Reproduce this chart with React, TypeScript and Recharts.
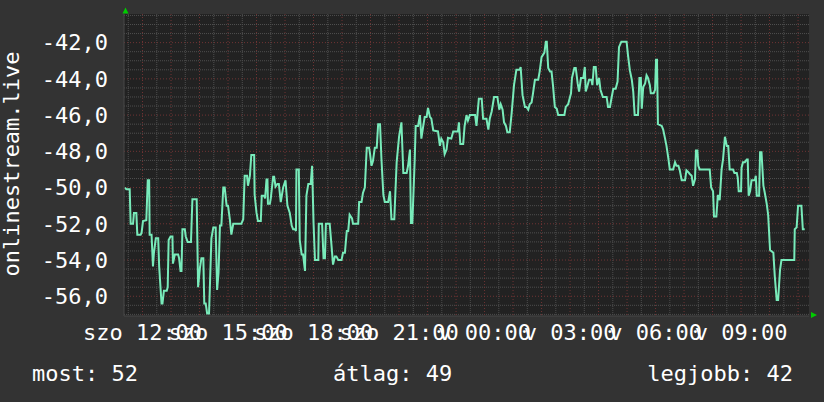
import React from 'react';
import { LineChart, Line, XAxis, YAxis, CartesianGrid } from 'recharts';

// minutes since saturday 00:00
const times = [
  683, 686, 693, 695, 700, 702, 707, 709, 716, 718, 721, 728, 731, 734, 735, 739, 742, 744, 748, 753,
  755, 760, 762, 765, 771, 773, 775, 779, 783, 784, 788, 795, 797, 800, 802, 804, 809, 811, 815, 822,
  825, 834, 837, 841, 844, 848, 850, 853, 856, 860, 862, 865, 869, 874, 877, 880, 883, 886, 890, 893,
  897, 900, 904, 907, 911, 928, 932, 935, 940, 942, 946, 949, 955, 956, 960, 963, 969, 971, 976, 978,
  981, 983, 984, 988, 990, 995, 997, 1000, 1004, 1007, 1011, 1016, 1021, 1025, 1030, 1034, 1037, 1041, 1043, 1044,
  1049, 1051, 1055, 1058, 1062, 1065, 1069, 1074, 1077, 1080, 1083, 1090, 1091, 1098, 1101, 1104, 1106, 1114, 1118, 1121,
  1125, 1128, 1132, 1139, 1142, 1146, 1150, 1153, 1156, 1161, 1163, 1174, 1176, 1181, 1184, 1188, 1192, 1197, 1199, 1202,
  1205, 1209, 1213, 1216, 1220, 1223, 1227, 1230, 1237, 1241, 1244, 1250, 1251, 1255, 1260, 1265, 1269, 1276, 1279, 1283,
  1285, 1288, 1293, 1295, 1300, 1304, 1307, 1311, 1314, 1318, 1321, 1325, 1328, 1332, 1342, 1346, 1349, 1353, 1356, 1360,
  1363, 1370, 1374, 1384, 1386, 1389, 1395, 1398, 1402, 1405, 1409, 1420, 1423, 1428, 1434, 1437, 1444, 1448, 1451, 1455,
  1460, 1467, 1471, 1474, 1478, 1481, 1485, 1488, 1493, 1497, 1502, 1507, 1514, 1516, 1520, 1525, 1528, 1532, 1535, 1539,
  1542, 1546, 1553, 1556, 1560, 1566, 1569, 1571, 1574, 1578, 1581, 1584, 1588, 1592, 1595, 1608, 1611, 1616, 1622, 1624,
  1629, 1632, 1636, 1639, 1643, 1648, 1651, 1653, 1657, 1660, 1665, 1667, 1670, 1674, 1677, 1681, 1684, 1689, 1697, 1700,
  1704, 1707, 1711, 1716, 1720, 1723, 1728, 1739, 1742, 1746, 1750, 1753, 1756, 1763, 1766, 1769, 1771, 1774, 1778, 1781,
  1784, 1788, 1790, 1796, 1799, 1801, 1803, 1805, 1813, 1816, 1820, 1823, 1827, 1830, 1837, 1841, 1844, 1848, 1851, 1855,
  1862, 1865, 1869, 1872, 1876, 1879, 1883, 1885, 1888, 1890, 1893, 1914, 1917, 1921, 1923, 1928, 1931, 1933, 1935, 1939,
  1942, 1946, 1950, 1953, 1956, 1963, 1966, 1971, 1973, 1975, 1980, 1981, 1984, 1988, 1992, 1994, 1996, 1999, 2002, 2009,
  2011, 2013, 2018, 2020, 2023, 2027, 2030, 2034, 2037, 2041, 2048, 2051, 2055, 2058, 2062, 2065, 2092, 2093, 2097, 2100,
  2107, 2110, 2114,
];

const values = [
  -50.0, -50.1, -50.1, -52.0, -52.0, -51.4, -51.4, -52.6, -52.6, -52.5, -51.85, -51.8, -49.6, -49.6, -52.6, -52.6, -54.35, -53.6, -52.8, -52.8,
  -54.35, -56.4, -56.4, -55.7, -55.7, -55.5, -52.9, -52.7, -52.7, -54.2, -53.7, -53.7, -53.9, -54.6, -54.6, -52.3, -52.3, -52.7, -53.0, -53.0,
  -50.65, -50.65, -55.5, -54.4, -53.9, -53.9, -56.4, -56.4, -56.95, -56.95, -55.3, -52.8, -52.2, -52.2, -55.65, -54.7, -52.1, -52.1, -50.0, -50.0,
  -51.0, -51.0, -51.8, -52.6, -52.0, -52.0, -51.75, -49.35, -49.35, -49.9, -49.35, -48.2, -48.2, -50.4, -51.4, -51.85, -51.85, -50.45, -50.45, -50.6,
  -49.55, -49.55, -50.9, -50.9, -50.6, -49.4, -49.4, -49.95, -49.8, -49.8, -50.8, -50.0, -49.6, -51.0, -51.4, -52.1, -52.3, -52.3, -52.4, -49.0,
  -49.0, -52.9, -53.7, -53.7, -54.6, -50.45, -49.8, -49.8, -48.8, -51.95, -54.0, -54.0, -52.0, -52.0, -53.9, -53.9, -52.0, -52.0, -53.25, -54.25,
  -53.8, -53.8, -54.0, -54.0, -53.6, -53.6, -52.4, -52.4, -51.5, -51.7, -52.0, -52.0, -50.8, -50.8, -50.3, -50.0, -47.8, -47.8, -48.15, -48.8,
  -48.55, -47.8, -47.8, -46.5, -46.5, -48.45, -50.4, -50.8, -50.8, -50.2, -51.75, -51.75, -51.1, -48.6, -47.2, -46.4, -49.2, -49.2, -48.8, -47.9,
  -51.95, -51.95, -48.45, -46.6, -46.6, -46.0, -47.3, -46.6, -46.1, -46.1, -45.6, -46.1, -46.2, -46.85, -46.9, -47.7, -47.3, -47.5, -48.15, -47.9,
  -47.25, -47.3, -46.9, -46.9, -46.4, -47.6, -47.6, -46.6, -46.0, -46.3, -46.0, -46.0, -46.6, -45.1, -45.1, -46.2, -46.2, -46.8, -46.2, -45.8,
  -45.0, -45.0, -45.7, -45.4, -45.7, -46.4, -46.6, -46.95, -46.95, -45.9, -44.35, -43.5, -43.5, -43.35, -44.9, -45.55, -45.55, -45.7, -45.4, -45.3,
  -44.8, -44.05, -44.05, -43.6, -42.8, -42.55, -41.95, -41.95, -43.4, -43.6, -43.6, -44.35, -45.55, -45.65, -46.0, -46.0, -45.55, -45.4, -44.8, -43.95,
  -43.4, -43.4, -44.25, -44.7, -43.95, -43.95, -43.35, -44.7, -44.35, -44.05, -44.05, -44.35, -43.35, -43.35, -44.35, -43.95, -44.6, -45.0, -45.0, -45.55,
  -45.55, -45.1, -44.55, -44.55, -44.15, -42.25, -41.95, -41.95, -42.7, -43.55, -44.05, -44.7, -46.0, -46.0, -43.95, -43.95, -45.65, -44.45, -44.25, -43.8,
  -43.95, -44.35, -44.8, -44.8, -44.6, -42.95, -42.95, -46.5, -46.6, -46.8, -47.3, -47.7, -48.4, -49.0, -49.0, -48.6, -48.8, -48.8, -49.05, -49.6,
  -49.6, -49.05, -49.15, -49.25, -49.35, -49.9, -49.55, -47.95, -47.95, -48.8, -49.0, -49.0, -50.0, -50.2, -51.6, -51.6, -50.45, -50.45, -50.7, -49.0,
  -48.45, -47.2, -47.7, -47.7, -49.0, -49.0, -49.2, -49.2, -49.45, -50.2, -50.2, -48.9, -48.6, -48.6, -48.45, -48.45, -50.45, -50.2, -49.6, -49.6,
  -49.35, -50.45, -50.45, -48.05, -48.05, -49.9, -50.3, -50.9, -51.5, -53.45, -53.6, -54.9, -56.2, -56.2, -54.55, -54.0, -54.0, -52.3, -52.2, -51.0,
  -51.0, -52.3, -52.3,
];

const xTicks = [720, 900, 1080, 1260, 1440, 1620, 1800, 1980];
const xTickLabels = ['szo 12:00', 'szo 15:00', 'szo 18:00', 'szo 21:00', 'v 00:00', 'v 03:00', 'v 06:00', 'v 09:00'];
const yTicks = [-56, -54, -52, -50, -48, -46, -44, -42];

const legendItems = ['most: 52', 'átlag: 49', 'legjobb: 42'];
const yTitle = 'onlinestream.live';

const X_DOMAIN = [681, 2123];
const Y_DOMAIN = [-57.09, -40.42];

// grid: red every hour / 2 units, grey every half hour / half unit
const hourLines: number[] = [];
const halfHourLines: number[] = [];
for (let m = 690; m < X_DOMAIN[1]; m += 30) {
  if (m % 60 === 0) hourLines.push(m);
  else halfHourLines.push(m);
}
const minorY: number[] = [];
for (let v = -57; v <= -40.5; v += 0.5) {
  if (!yTicks.includes(v)) minorY.push(v);
}

const data = times.map((t, i) => ({ t, v: values[i] }));

const FONT = '"DejaVu Sans Mono", monospace';
const FS = 22;

const fmtY = (v: number) => v.toFixed(1).replace('.', ',');
const fmtX = (t: number) => xTickLabels[xTicks.indexOf(t)] ?? '';

export default function App() {
  return (
    <div
      style={{
        position: 'absolute',
        left: 0,
        top: 0,
        width: 824,
        height: 402,
        background: '#333333',
        fontFamily: FONT,
      }}
    >
      <LineChart
        width={824}
        height={402}
        data={data}
        margin={{ top: 14, right: 15, bottom: 0, left: 0 }}
      >
        <CartesianGrid
          fill="#222222"
          stroke="#4e4e4e"
          strokeDasharray="1 1"
          horizontalValues={minorY}
          verticalValues={halfHourLines}
        />
        <CartesianGrid
          fillOpacity={0}
          stroke="#703434"
          strokeDasharray="1 2"
          horizontalValues={yTicks}
          verticalValues={hourLines}
        />
        <XAxis
          type="number"
          dataKey="t"
          domain={X_DOMAIN}
          ticks={xTicks}
          interval={0}
          tickFormatter={fmtX}
          height={86}
          tickSize={0}
          tickMargin={8}
          allowDataOverflow
          axisLine={{ stroke: '#484848' }}
          tick={{ fill: '#ffffff', fontSize: FS, fontFamily: FONT }}
        />
        <YAxis
          type="number"
          domain={Y_DOMAIN}
          ticks={yTicks}
          interval={0}
          tickFormatter={fmtY}
          width={124}
          tickSize={0}
          tickMargin={16}
          allowDataOverflow
          axisLine={{ stroke: '#484848' }}
          tick={{ fill: '#ffffff', fontSize: FS, fontFamily: FONT }}
        />
        <Line
          type="linear"
          dataKey="v"
          stroke="#78ebba"
          strokeWidth={2}
          dot={false}
          isAnimationActive={false}
        />
      </LineChart>
      <svg
        width={824}
        height={402}
        style={{ position: 'absolute', left: 0, top: 0, pointerEvents: 'none' }}
      >
        <polygon points="122.5,13.5 128.5,13.5 125.5,7.5" fill="#00cc00" />
        <polygon points="811,312 811,318 817,315" fill="#00cc00" />
        <text
          transform="translate(19,164) rotate(-90)"
          textAnchor="middle"
          fill="#ffffff"
          fontSize={FS}
          fontFamily={FONT}
        >
          {yTitle}
        </text>
        <text x={32} y={381} fill="#ffffff" fontSize={FS} fontFamily={FONT}>
          {legendItems[0]}
        </text>
        <text x={333} y={381} fill="#ffffff" fontSize={FS} fontFamily={FONT}>
          {legendItems[1]}
        </text>
        <text x={793} y={381} textAnchor="end" fill="#ffffff" fontSize={FS} fontFamily={FONT}>
          {legendItems[2]}
        </text>
      </svg>
    </div>
  );
}
